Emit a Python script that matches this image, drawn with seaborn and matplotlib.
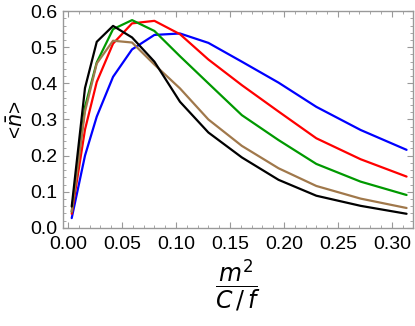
import numpy as np
import pandas as pd
import seaborn as sns
import matplotlib.pyplot as plt
from matplotlib.ticker import MultipleLocator

# x positions shared by all curves (m^2 / (C/f))
x_vals = [0.0034, 0.0157, 0.0266, 0.0417, 0.0593, 0.080, 0.1037,
          0.130, 0.161, 0.195, 0.230, 0.271, 0.3136]

blue = [0.027, 0.200, 0.308, 0.418, 0.494, 0.534, 0.538,
        0.512, 0.460, 0.402, 0.335, 0.271, 0.216]
red = [0.039, 0.272, 0.404, 0.510, 0.566, 0.573, 0.536,
       0.466, 0.395, 0.322, 0.248, 0.190, 0.142]
green = [0.045, 0.335, 0.458, 0.550, 0.575, 0.545, 0.475,
         0.400, 0.312, 0.243, 0.177, 0.128, 0.091]
brown = [0.045, 0.322, 0.455, 0.518, 0.513, 0.452, 0.386,
         0.300, 0.227, 0.165, 0.116, 0.081, 0.055]
black = [0.059, 0.387, 0.515, 0.559, 0.527, 0.460, 0.349,
         0.264, 0.195, 0.133, 0.089, 0.061, 0.039]

series = {"blue": blue, "red": red, "green": green, "brown": brown, "black": black}
colors = {"blue": "#0000ff", "red": "#ff0000", "green": "#009900",
          "brown": "#a0784b", "black": "#000000"}

df = pd.concat([pd.DataFrame({"x": x_vals, "y": v, "curve": k}) for k, v in series.items()])

sns.set_style("ticks")
plt.rcParams['font.family'] = ['Liberation Sans', 'DejaVu Sans']
plt.rcParams['mathtext.fontset'] = 'dejavusans'

fig = plt.figure(figsize=(4.15, 3.26), dpi=100)
ax = fig.add_axes([0.152, 0.301, 0.843, 0.665])

sns.lineplot(data=df, x="x", y="y", hue="curve", palette=colors,
             hue_order=list(series.keys()), linewidth=1.6, legend=False,
             sort=False, ax=ax)

ax.set_xlim(-0.0046, 0.3195)
ax.set_ylim(0, 0.6)
ax.xaxis.set_major_locator(MultipleLocator(0.05))
ax.xaxis.set_minor_locator(MultipleLocator(0.01))
ax.yaxis.set_major_locator(MultipleLocator(0.1))
ax.yaxis.set_minor_locator(MultipleLocator(0.02))
ax.set_xticklabels([f"{t:.2f}" for t in ax.get_xticks()])
ax.set_yticklabels([f"{t:.1f}" for t in ax.get_yticks()])

gray = "#999999"
for sp in ax.spines.values():
    sp.set_visible(True)
    sp.set_color(gray)
    sp.set_linewidth(1.0)
ax.tick_params(which="both", direction="in", top=True, right=True,
               color=gray, labelcolor="black", labelsize=14)
ax.tick_params(axis="x", pad=6)
ax.tick_params(axis="y", pad=4)
ax.tick_params(which="major", length=4)
ax.tick_params(which="minor", length=2)

ax.set_xlabel(r"$\dfrac{m^2}{C\,/\,f}$", fontsize=17, labelpad=3, color="black")
ax.set_ylabel(r"<$\bar{n}$>", fontsize=15, labelpad=2, color="black")

fig.savefig("out.png", dpi=100)
plt.close(fig)
